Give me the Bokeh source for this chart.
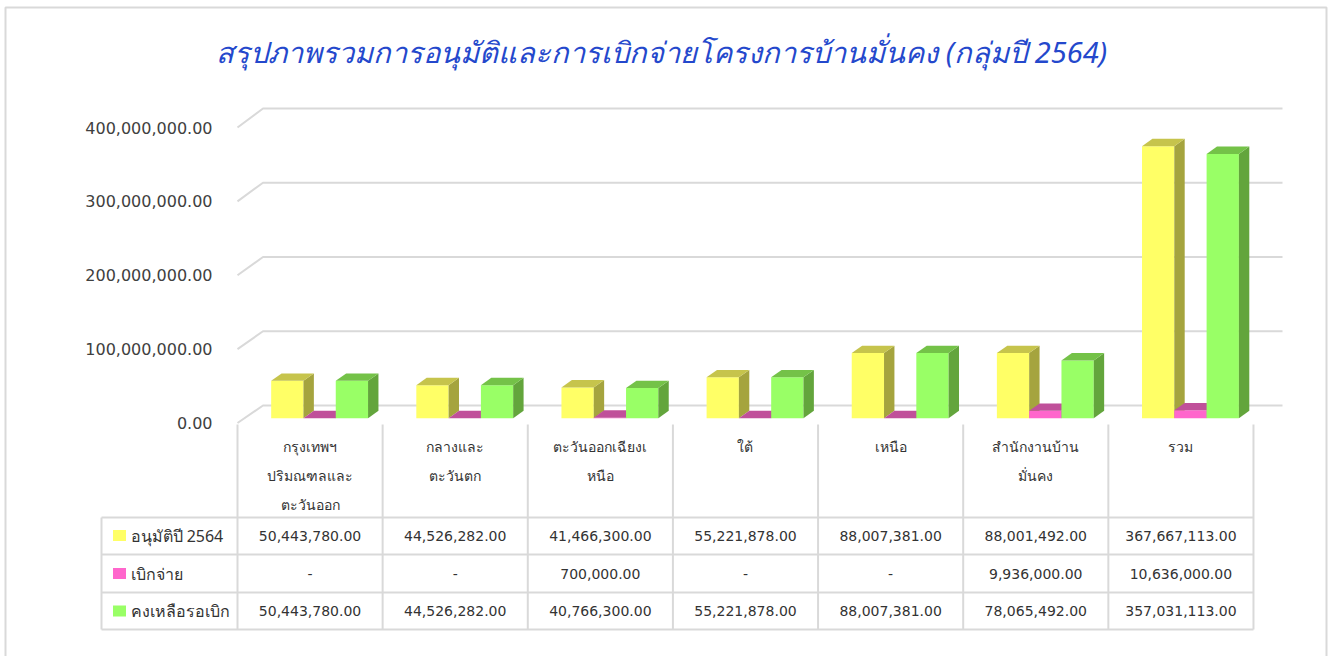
import numpy as np
from bokeh.plotting import figure
from bokeh.models import Range1d, LinearAxis, FixedTicker, NumeralTickFormatter
from bokeh.core.properties import value
from bokeh.embed import file_html
from bokeh.resources import INLINE

# ---------------- data ----------------
title_text = "สรุปภาพรวมการอนุมัติและการเบิกจ่ายโครงการบ้านมั่นคง  (กลุ่มปี 2564)"
categories = [
    ["กรุงเทพฯ", "ปริมณฑลและ", "ตะวันออก"],
    ["กลางและ", "ตะวันตก"],
    ["ตะวันออกเฉียงเ", "หนือ"],
    ["ใต้"],
    ["เหนือ"],
    ["สำนักงานบ้าน", "มั่นคง"],
    ["รวม"],
]
series_names = ["อนุมัติปี 2564", "เบิกจ่าย", "คงเหลือรอเบิก"]
approved = [50443780, 44526282, 41466300, 55221878, 88007381, 88001492, 367667113]
disbursed = [0, 0, 700000, 0, 0, 9936000, 10636000]
remaining = [50443780, 44526282, 40766300, 55221878, 88007381, 78065492, 357031113]
y_ticks = [0, 100000000, 200000000, 300000000, 400000000]

series = [approved, disbursed, remaining]
front_colors = ["#FFFF66", "#FF66CC", "#99FF66"]
top_colors = ["#C6C44C", "#C0509A", "#74C248"]
side_colors = ["#A5A43E", "#A3437F", "#63A53C"]

# ---------------- geometry ----------------
W = 1335
H = 656
PXC = 145.14          # pixels per category
X0 = 237.0            # pixel of category 0 (front plane)
K = 0.74e-6           # px per unit (bars)
BASE = 417.7          # pixel of value 0 (bars)
KF = 0.73875e-6       # px per unit (front plane, axis)
BASEF = 422.5
KB = 0.7425e-6        # back wall
BASEB = 405.0
GRID = "#D9D9D9"

def px2x(px):
    return (px - X0) / PXC

def py2v(py):
    return (BASE - py) / K

p = figure(width=W, height=H, output_backend="svg", toolbar_location=None,
           x_axis_location=None, y_axis_location=None, min_border=0,
           x_range=Range1d(px2x(0), px2x(W)),
           y_range=Range1d(-(H - BASE) / K, BASE / K))
p.outline_line_color = None
p.background_fill_color = "white"
p.border_fill_color = "white"
p.xgrid.visible = False
p.ygrid.visible = False
p.extra_y_ranges = {"front": Range1d(-(H - BASEF) / KF, BASEF / KF),
                    "px": Range1d(H, 0)}

yaxis = LinearAxis(y_range_name="front", ticker=FixedTicker(ticks=y_ticks),
                   formatter=NumeralTickFormatter(format="0,0.00"),
                   fixed_location=px2x(215))
yaxis.axis_line_color = None
yaxis.major_tick_line_color = None
yaxis.minor_tick_line_color = None
yaxis.major_tick_out = 0
yaxis.major_tick_in = 0
yaxis.major_label_standoff = 3
yaxis.major_label_text_font = "DejaVu Sans"
yaxis.major_label_text_font_size = "16px"
yaxis.major_label_text_color = "#404040"
p.add_layout(yaxis, "left")

# outer frame border
bl, br = px2x(5), px2x(1326)
p.multi_line([[bl, bl, br, br]], [[H + 5, 7, 7, H + 5]], y_range_name="px",
             line_color=GRID, line_width=2)

# 3D gridlines (left wall diagonal + back wall horizontal)
gx, gy = [], []
for v in y_ticks:
    pf = BASEF - v * KF
    pb = BASEB - v * KB
    gx.append([0.0, px2x(262.5), px2x(1282)])
    gy.append([py2v(pf), py2v(pb), py2v(pb)])
p.multi_line(gx, gy, line_color=GRID, line_width=2)

# 3D bars
W_BAR = 0.2225
OFF0 = 0.232
DX = 10.4 / PXC
DY = 7.4 / K
for s, vals in enumerate(series):
    lefts = [i + OFF0 + s * W_BAR for i in range(len(vals))]
    rights = [l + W_BAR for l in lefts]
    p.quad(left=lefts, right=rights, bottom=[0] * len(vals), top=vals,
           fill_color=front_colors[s], line_color=None)
    side_xs = [[r, r + DX, r + DX, r] for r in rights]
    side_ys = [[0, DY, v + DY, v] for v in vals]
    p.patches(side_xs, side_ys, fill_color=side_colors[s], line_color=None)
    top_xs = [[l, r, r + DX, l + DX] for l, r in zip(lefts, rights)]
    top_ys = [[v, v, v + DY, v + DY] for v in vals]
    p.patches(top_xs, top_ys, fill_color=top_colors[s], line_color=None)

# title
p.text(x=[px2x(665)], y=[51], y_range_name="px", text=[title_text], text_align="center",
       text_baseline="middle", text_font=value("Noto Sans"), text_font_size="29px",
       text_font_style="italic", text_color="#2448CC")

# ---------------- data table ----------------
n = len(categories)
row_lines = [517, 554, 592, 629]
row_centers = [535, 573, 610.5]
xl = px2x(101)
vx = [[float(i), float(i)] for i in range(n + 1)] + [[xl, xl]]
vy = [[424, 629]] * (n + 1) + [[517, 629]]
p.multi_line(vx, vy, y_range_name="px", line_color=GRID, line_width=2)
p.multi_line([[xl, float(n)]] * len(row_lines), [[y, y] for y in row_lines],
             y_range_name="px", line_color=GRID, line_width=2)

hx, hy, ht = [], [], []
for i, lines in enumerate(categories):
    for j, t in enumerate(lines):
        hx.append(i + 0.5)
        hy.append(446 + 29 * j)
        ht.append(t)
p.text(x=hx, y=hy, y_range_name="px", text=ht, text_align="center", text_baseline="middle",
       text_font=value("Noto Sans"), text_font_size="14px", text_color="#333333")

def fmt(v):
    return "-" if v == 0 else f"{v:,.2f}"

tx, ty, tt = [], [], []
for r, vals in enumerate(series):
    for i, v in enumerate(vals):
        tx.append(i + 0.5)
        ty.append(row_centers[r])
        tt.append(fmt(v))
p.text(x=tx, y=ty, y_range_name="px", text=tt, text_align="center", text_baseline="middle",
       text_font=value("DejaVu Sans"), text_font_size="14px", text_color="#333333")

# legend keys in table
p.rect(x=[px2x(119)] * 3, y=row_centers, y_range_name="px", width=13, height=11,
       width_units="screen", height_units="screen",
       fill_color=front_colors, line_color=None)
p.text(x=[px2x(130)] * 3, y=row_centers, y_range_name="px", text=series_names,
       text_align="left", text_baseline="middle", text_font=value("Noto Sans"),
       text_font_size="16px", text_color="#333333")

open("out.html", "w").write(file_html(p, INLINE))
